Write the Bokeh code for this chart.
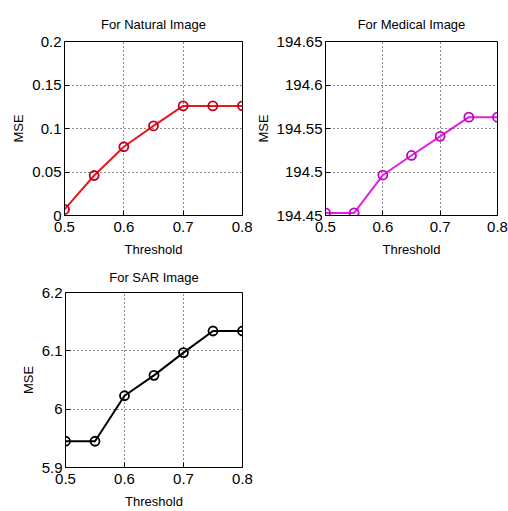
from bokeh.plotting import figure
from bokeh.layouts import column, row
from bokeh.models import FixedTicker, Range1d
from bokeh.embed import file_html
from bokeh.resources import INLINE

threshold = [0.5, 0.55, 0.6, 0.65, 0.7, 0.75, 0.8]
mse_natural = [0.007, 0.046, 0.079, 0.103, 0.126, 0.126, 0.126]
mse_medical = [194.453, 194.453, 194.4965, 194.519, 194.541, 194.563, 194.563]
mse_sar = [5.945, 5.945, 6.023, 6.058, 6.097, 6.134, 6.134]

x_ticks = [0.5, 0.6, 0.7, 0.8]
x_tick_labels = ["0.5", "0.6", "0.7", "0.8"]
nat_ticks = [0, 0.05, 0.1, 0.15, 0.2]
nat_tick_labels = ["0", "0.05", "0.1", "0.15", "0.2"]
med_ticks = [194.45, 194.5, 194.55, 194.6, 194.65]
med_tick_labels = ["194.45", "194.5", "194.55", "194.6", "194.65"]
sar_ticks = [5.9, 6.0, 6.1, 6.2]
sar_tick_labels = ["5.9", "6", "6.1", "6.2"]

FONT = "Liberation Sans"


def make(title, ys, yticks, ylabels, line_color, marker_color,
         bl, br, bt, bb, fw, fh, tstand):
    p = figure(width=bl + fw + br, height=bt + fh + bb,
               frame_width=fw, frame_height=fh,
               min_border_left=bl, min_border_right=br,
               min_border_top=bt, min_border_bottom=bb,
               x_range=Range1d(x_ticks[0], x_ticks[-1]),
               y_range=Range1d(yticks[0], yticks[-1]),
               output_backend="svg", toolbar_location=None, title=title)
    p.title.text_font = FONT
    p.title.text_font_size = "13px"
    p.title.text_font_style = "normal"
    p.title.text_color = "black"
    p.title.align = "center"
    p.title.standoff = tstand
    p.outline_line_color = "black"
    p.outline_line_width = 1
    p.outline_line_alpha = 1
    p.background_fill_color = "white"
    p.border_fill_color = "white"
    p.xaxis.ticker = FixedTicker(ticks=x_ticks)
    p.xaxis.major_label_overrides = dict(zip(x_ticks, x_tick_labels))
    p.yaxis.ticker = FixedTicker(ticks=yticks)
    p.yaxis.major_label_overrides = dict(zip(yticks, ylabels))
    p.xaxis.axis_label = "Threshold"
    p.yaxis.axis_label = "MSE"
    for ax in (p.xaxis, p.yaxis):
        ax.axis_line_color = "black"
        ax.major_tick_in = 5
        ax.major_tick_out = 0
        ax.minor_tick_line_color = None
        ax.major_tick_line_color = "black"
        ax.major_label_text_font = FONT
        ax.major_label_text_font_size = "15px"
        ax.major_label_text_color = "black"
        ax.axis_label_text_font = FONT
        ax.axis_label_text_font_size = "13px"
        ax.axis_label_text_font_style = "normal"
        ax.axis_label_text_color = "black"
    p.xaxis.major_label_standoff = 6
    p.xaxis.axis_label_standoff = 7
    p.yaxis.major_label_standoff = 3
    p.yaxis.axis_label_standoff = 3
    p.grid.grid_line_color = "black"
    p.grid.grid_line_dash = "1 3"
    p.grid.grid_line_width = 1
    p.grid.grid_line_alpha = 0.9
    p.line(threshold, ys, line_color=line_color, line_width=2)
    p.scatter(threshold, ys, size=9, marker="circle", fill_color=None,
              line_color=marker_color, line_width=1.8)
    return p


p1 = make("For Natural Image", mse_natural, nat_ticks, nat_tick_labels,
          "#e01c1c", "#c0001c", 64, 10, 41, 44, 178, 174, 20)
p2 = make("For Medical Image", mse_medical, med_ticks, med_tick_labels,
          "#e020e0", "#c000c8", 72, 11, 41, 44, 172, 174, 20)
p3 = make("For SAR Image", mse_sar, sar_ticks, sar_tick_labels,
          "black", "black", 65, 14, 33, 38, 177, 175, 16)

layout = column(row(p1, p2), p3)
open("out.html", "w").write(file_html(layout, INLINE))
